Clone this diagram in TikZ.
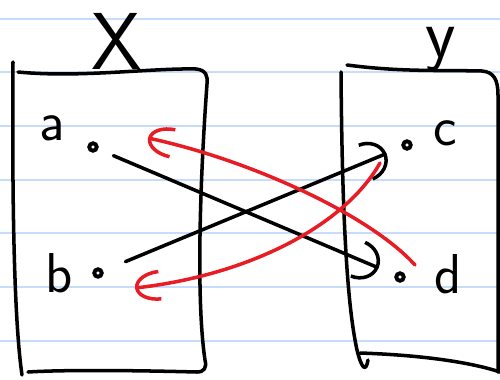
\documentclass[tikz,border=0pt]{standalone}
\usetikzlibrary{arrows.meta,positioning}
\definecolor{paperline}{RGB}{198,220,250}
\definecolor{redink}{RGB}{232,28,36}
\tikzset{
  pen/.style={line width=2pt,line cap=round,line join=round},
  dot/.style={draw,circle,line width=2.2pt,inner sep=0pt,minimum size=0.15cm},
  lbl/.style={font=\fontsize{32}{32}\selectfont\sffamily,inner sep=0pt},
  title/.style={font=\fontsize{46}{46}\selectfont\sffamily,inner sep=0pt},
  arr/.style={pen,-{Arc Barb[length=0.45cm,width=0.8cm]}},
  back/.style={pen,draw=redink,-{Arc Barb[length=0.5cm,width=0.62cm]}}
}
\begin{document}
\begin{tikzpicture}[x=0.02cm,y=-0.02cm]
\useasboundingbox (0,0) rectangle (500,379);
\foreach \ly in {19,72,126,180,233,287,341}
  \draw[paperline,line width=1.6pt] (0,\ly) -- (500,\ly);
% the two sets
\draw[pen] (13,62) .. controls (12,200) and (14,320) .. (22,375);
\draw[pen] (18,72) .. controls (80,78) and (150,68) .. (196,69) .. controls (206,70) and (208,76) .. (207,84)
  .. controls (200,180) and (196,300) .. (205,360) .. controls (207,368) and (204,372) .. (197,372)
  .. controls (120,370) and (60,370) .. (28,372);
\draw[pen] (341,72) .. controls (342,200) and (346,300) .. (357,350) .. controls (362,370) and (366,372) .. (368,360);
\draw[pen] (347,65) .. controls (400,72) and (440,70) .. (482,71) .. controls (494,72) and (498,80) .. (498,95) -- (498,372);
\draw[pen] (360,353) .. controls (420,355) and (470,362) .. (500,372);
\node[title] (tx) at (117,41) {X};
\node[title,font=\fontsize{40}{40}\selectfont\sffamily] (ty) at (441,50) {y};
% points
\node[dot] (a) at (93,147) {};
\node[dot] (b) at (98,273) {};
\node[dot] (c) at (407,145) {};
\node[dot] (d) at (400,277) {};
\node[lbl] (la) at (52,128) {a};
\node[lbl] (lb) at (59,273) {b};
\node[lbl] (lc) at (445,133) {c};
\node[lbl] (ld) at (448,274) {d};
% maps
\draw[arr,shorten <=0.33cm,shorten >=0.35cm] (a) -- (d);
\draw[arr,shorten <=0.48cm,shorten >=0.33cm] (b) -- (c);
\draw[back] ([shift={(15,-12)}]d.center) .. controls +(-45,-50) and +(102,22) .. ([shift={(55,-9)}]a.center);
\draw[back] ([shift={(-27,18)}]c.center) .. controls +(-35,62) and +(115,-13) .. ([shift={(37,15)}]b.center);
\end{tikzpicture}
\end{document}
